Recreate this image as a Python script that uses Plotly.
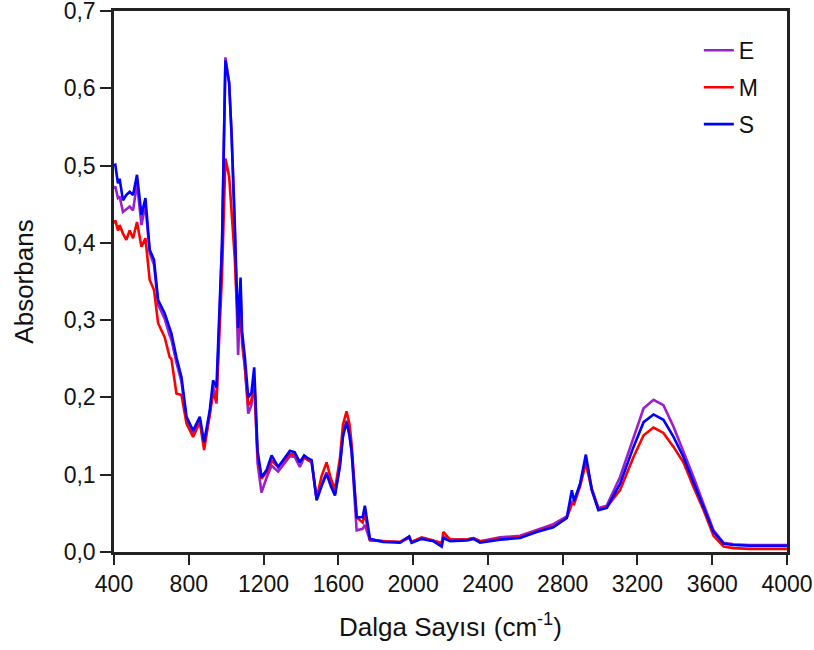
import plotly.graph_objects as go

# Wavenumber grid (cm^-1)
wn = [400, 407, 421, 430, 448, 466, 484, 502, 523, 547, 568, 591, 614, 636, 671, 698, 707, 734, 761, 788,
      823, 859, 882, 912, 930, 948, 966, 978, 996, 1016, 1029, 1046, 1055, 1064, 1077, 1085, 1100, 1118, 1135, 1150,
      1168, 1189, 1216, 1243, 1278, 1310, 1341, 1367, 1394, 1417, 1439, 1457, 1484, 1510, 1537, 1560, 1582, 1608, 1625, 1644,
      1660, 1671, 1698, 1730, 1742, 1769, 1840, 1930, 1979, 1992, 2046, 2108, 2153, 2162, 2198, 2287, 2323, 2358, 2465, 2572,
      2661, 2750, 2822, 2849, 2861, 2893, 2924, 2956, 2991, 3036, 3107, 3179, 3233, 3286, 3339, 3393, 3446, 3500, 3554, 3607,
      3661, 3714, 3800, 4000]

e_abs = [0.470, 0.473, 0.458, 0.460, 0.440, 0.444, 0.447, 0.442, 0.477, 0.423, 0.449, 0.387, 0.372, 0.320, 0.302, 0.280, 0.275, 0.245, 0.220, 0.170,
         0.152, 0.170, 0.138, 0.178, 0.215, 0.192, 0.320, 0.400, 0.640, 0.607, 0.540, 0.430, 0.330, 0.255, 0.340, 0.270, 0.240, 0.179, 0.190, 0.225,
         0.115, 0.077, 0.096, 0.112, 0.104, 0.115, 0.124, 0.123, 0.110, 0.122, 0.119, 0.116, 0.068, 0.087, 0.103, 0.088, 0.075, 0.112, 0.152, 0.170,
         0.152, 0.130, 0.028, 0.030, 0.035, 0.015, 0.014, 0.013, 0.018, 0.013, 0.018, 0.015, 0.012, 0.020, 0.016, 0.016, 0.018, 0.014, 0.019, 0.021,
         0.029, 0.036, 0.046, 0.065, 0.065, 0.087, 0.120, 0.082, 0.057, 0.060, 0.097, 0.149, 0.186, 0.197, 0.190, 0.162, 0.131, 0.097, 0.062, 0.028,
         0.012, 0.010, 0.009, 0.009]

m_abs = [0.425, 0.429, 0.416, 0.423, 0.412, 0.404, 0.416, 0.406, 0.427, 0.395, 0.406, 0.352, 0.339, 0.296, 0.278, 0.252, 0.250, 0.205, 0.203, 0.166,
         0.149, 0.168, 0.132, 0.175, 0.205, 0.195, 0.300, 0.360, 0.509, 0.486, 0.440, 0.380, 0.330, 0.300, 0.302, 0.280, 0.240, 0.190, 0.195, 0.220,
         0.125, 0.095, 0.103, 0.118, 0.110, 0.118, 0.127, 0.126, 0.117, 0.123, 0.119, 0.117, 0.069, 0.098, 0.116, 0.095, 0.081, 0.120, 0.165, 0.182,
         0.165, 0.140, 0.045, 0.038, 0.050, 0.016, 0.014, 0.013, 0.020, 0.013, 0.019, 0.015, 0.011, 0.026, 0.016, 0.016, 0.018, 0.014, 0.017, 0.019,
         0.027, 0.033, 0.044, 0.062, 0.062, 0.085, 0.115, 0.080, 0.056, 0.058, 0.080, 0.123, 0.151, 0.161, 0.154, 0.136, 0.116, 0.084, 0.054, 0.021,
         0.007, 0.005, 0.004, 0.004]

s_abs = [0.500, 0.501, 0.477, 0.483, 0.455, 0.462, 0.466, 0.462, 0.488, 0.436, 0.458, 0.391, 0.378, 0.326, 0.309, 0.290, 0.283, 0.252, 0.226, 0.175,
         0.157, 0.175, 0.142, 0.183, 0.222, 0.213, 0.326, 0.400, 0.636, 0.607, 0.540, 0.430, 0.360, 0.290, 0.355, 0.285, 0.252, 0.200, 0.206, 0.239,
         0.131, 0.097, 0.106, 0.125, 0.110, 0.120, 0.131, 0.129, 0.116, 0.125, 0.121, 0.119, 0.067, 0.085, 0.101, 0.085, 0.073, 0.110, 0.150, 0.168,
         0.150, 0.131, 0.045, 0.045, 0.060, 0.017, 0.013, 0.012, 0.020, 0.012, 0.017, 0.014, 0.007, 0.018, 0.014, 0.015, 0.017, 0.012, 0.016, 0.018,
         0.026, 0.032, 0.044, 0.080, 0.066, 0.088, 0.126, 0.080, 0.054, 0.057, 0.088, 0.136, 0.168, 0.178, 0.171, 0.149, 0.123, 0.090, 0.058, 0.026,
         0.011, 0.009, 0.008, 0.008]

series_names = ["E", "M", "S"]
series_colors = ["#9B1FD1", "#FF0000", "#0000FF"]
x_ticks = [400, 800, 1200, 1600, 2000, 2400, 2800, 3200, 3600, 4000]
y_ticks = [0.0, 0.1, 0.2, 0.3, 0.4, 0.5, 0.6, 0.7]

assert len(wn) == len(e_abs) == len(m_abs) == len(s_abs)

FONT = "Liberation Sans, Arial, sans-serif"
TXT = "#111111"

fig = go.Figure()
for name, ys, col in zip(series_names, [e_abs, m_abs, s_abs], series_colors):
    fig.add_trace(go.Scatter(x=wn, y=ys, mode="lines", name=name, legendgroup=name,
                             line=dict(color=col, width=2.6)))

fig.update_layout(
    width=814, height=650,
    margin=dict(l=114, r=27, t=11, b=98),
    paper_bgcolor="white", plot_bgcolor="white",
    separators=",.",
    font=dict(family=FONT, color=TXT),
    showlegend=True,
    legend=dict(x=0.869, y=0.967, xanchor="left", yanchor="top",
                font=dict(size=23, family=FONT, color=TXT),
                bgcolor="rgba(0,0,0,0)", tracegroupgap=4),
)
fig.update_xaxes(
    range=[400, 4000], tickvals=x_ticks, tickformat="d",
    showgrid=False, zeroline=False, automargin=False, ticklabeloverflow="allow",
    showline=True, linecolor="#222222", linewidth=2.5, mirror=True,
    ticks="outside", ticklen=10, tickwidth=2, tickcolor="#222222",
    tickfont=dict(size=23, family=FONT, color=TXT),
    title=dict(text="Dalga Sayısı (cm<sup>-1</sup>)", font=dict(size=26, family=FONT, color=TXT), standoff=22),
)
fig.update_yaxes(
    range=[0, 0.7], tickvals=y_ticks, tickformat=".1f",
    showgrid=False, zeroline=False, automargin=False, ticklabeloverflow="allow",
    showline=True, linecolor="#222222", linewidth=2.5, mirror=True,
    ticks="outside", ticklen=11, tickwidth=2, tickcolor="#222222",
    tickfont=dict(size=23, family=FONT, color=TXT),
    title=dict(text="Absorbans", font=dict(size=26, family=FONT, color=TXT), standoff=23),
)

# remove the browser's default 8px page margin so the figure fills the 814x650 window
fig.write_html("out.html",
               config={"displayModeBar": False},
               post_script="document.body.style.margin='0';document.body.style.overflow='hidden';")
